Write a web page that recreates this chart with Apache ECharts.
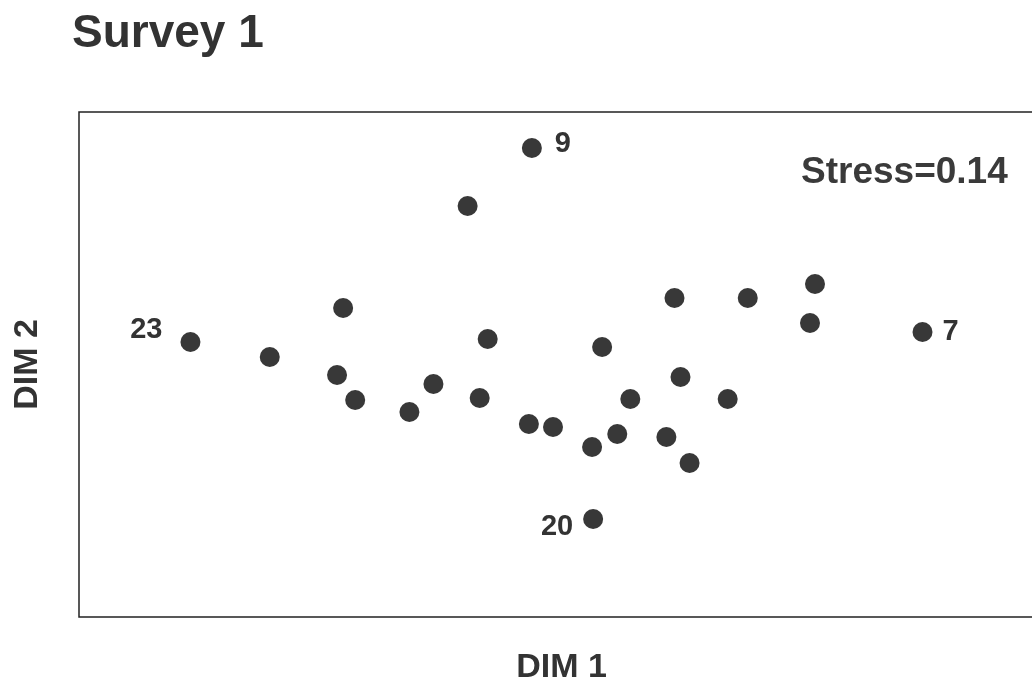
<!DOCTYPE html>
<html>
<head>
<meta charset="utf-8">
<script src="https://cdn.jsdelivr.net/npm/echarts@6/dist/echarts.min.js"></script>
<style>html,body{margin:0;padding:0;background:#fff}#c{width:1032px;height:679px}</style>
</head>
<body>
<div id="c"></div>
<script>
// MDS configuration, Survey 1 (DIM 1, DIM 2)
const dim1 = [46.93, 40.27, 27.37, 11.55, 19.77, 26.74, 28.62, 34.24, 36.73, 42.35, 41.52, 46.62, 49.12, 61.71, 69.30, 76.27, 75.75, 87.41, 54.21, 62.33, 57.13, 67.22, 55.78, 53.17, 60.87, 63.27, 53.28];
const dim2 = [92.87, 81.39, 61.19, 54.46, 51.49, 47.92, 42.97, 40.59, 46.14, 55.05, 43.37, 38.22, 37.62, 63.17, 63.17, 65.94, 58.22, 56.44, 53.47, 47.52, 43.17, 43.17, 36.24, 33.66, 35.64, 30.50, 19.41];
const pointLabels = ['9', '', '', '23', '', '', '', '', '', '', '', '', '', '', '', '', '', '7', '', '', '', '', '', '', '', '', '20'];
const titleText = 'Survey 1';
const stressText = 'Stress=0.14';
const xName = 'DIM 1';
const yName = 'DIM 2';

const labelPlacement = {
  '9':  {position: 'right', distance: 13, offset: [0, -4]},
  '7':  {position: 'right', distance: 10, offset: [0, 0]},
  '23': {position: 'left', distance: 18, offset: [0, -12]},
  '20': {position: 'left', distance: 10, offset: [0, 8]}
};

const data = dim1.map((x, i) => {
  const item = {value: [x, dim2[i]]};
  const lb = pointLabels[i];
  if (lb) {
    const p = labelPlacement[lb];
    item.label = {show: true, formatter: lb, position: p.position, distance: p.distance, offset: p.offset};
  }
  return item;
});

const chart = echarts.init(document.getElementById('c'));
chart.setOption({
  backgroundColor: '#fff',
  animation: false,
  grid: {left: 79, top: 112, bottom: 62, right: -12, show: true, borderColor: '#222', borderWidth: 1.5, backgroundColor: 'transparent', containLabel: false, outerBoundsMode: 'none'},
  xAxis: {
    type: 'value', min: 0, max: 100,
    axisLine: {show: false}, axisTick: {show: false}, axisLabel: {show: false}, splitLine: {show: false},
    name: xName, nameLocation: 'middle', nameGap: 34,
    nameTextStyle: {fontFamily: 'Liberation Sans, Arial, sans-serif', fontWeight: 'bold', fontSize: 34, color: '#333'}
  },
  yAxis: {
    type: 'value', min: 0, max: 100,
    axisLine: {show: false}, axisTick: {show: false}, axisLabel: {show: false}, splitLine: {show: false},
    name: yName, nameLocation: 'middle', nameGap: 34, nameRotate: 90,
    nameTextStyle: {fontFamily: 'Liberation Sans, Arial, sans-serif', fontWeight: 'bold', fontSize: 34, color: '#333'}
  },
  graphic: [
    {type: 'text', left: 72, top: 11, style: {text: titleText, fontFamily: 'Liberation Sans, Arial, sans-serif', fontWeight: 'bold', fontSize: 46, fill: '#333'}},
    {type: 'text', left: 801, top: 154, style: {text: stressText, fontFamily: 'Liberation Sans, Arial, sans-serif', fontWeight: 'bold', fontSize: 37, fill: '#3a3a3a'}}
  ],
  series: [{
    type: 'scatter',
    symbol: 'circle',
    symbolSize: 20,
    itemStyle: {color: '#383838', opacity: 1},
    label: {show: false, color: '#333', fontFamily: 'Liberation Sans, Arial, sans-serif', fontWeight: 'bold', fontSize: 29},
    data: data
  }]
});
</script>
</body>
</html>
